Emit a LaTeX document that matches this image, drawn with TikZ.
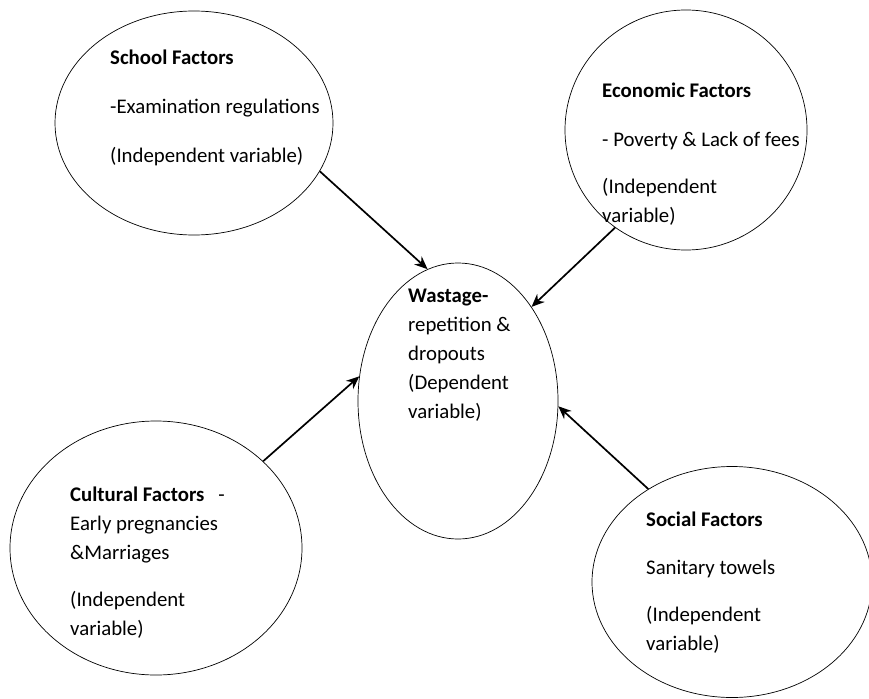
\documentclass[tikz,border=0pt]{standalone}
\usepackage{fontspec}
\setmainfont{Carlito}
\usetikzlibrary{shapes.geometric, arrows.meta}

\begin{document}
\begin{tikzpicture} [x=1pt, y=-1pt,
	factor/.style={ellipse, draw, line width=0.7pt, inner sep=0pt},
	factortext/.style={anchor=base west, align=left, inner sep=0pt, font=\fontsize{20.8}{29}\selectfont},
	link/.style={line width=1.7pt, -{Stealth[length=13pt, width=11pt]}}]
	\useasboundingbox (0,0) rectangle (869,698);
	\node [factor, minimum width=278pt, minimum height=224pt] (school) at (194,123) {};
	\node [factor, minimum width=242pt, minimum height=240pt] (economic) at (686,130) {};
	\node [factor, minimum width=200pt, minimum height=276pt] (wastage) at (458,401) {};
	\node [factor, minimum width=292pt, minimum height=254pt] (cultural) at (156,548) {};
	\node [factor, minimum width=280pt, minimum height=231pt] (social) at (732,582) {};
	\node [factortext] (schooltext) at (110,162) {\textbf{School Factors}\\[20pt] -Examination regulations\\[20pt] (Independent variable)};
	\node [factortext] (economictext) at (602,222) {\textbf{Economic Factors}\\[20pt] - Poverty \& Lack of fees\\[18pt] (Independent\\ variable)};
	\node [factortext] (wastagetext) at (408,418) {\textbf{Wastage-}\\ repetition \&\\ dropouts\\ (Dependent\\ variable)};
	\node [factortext] (culturaltext) at (70,635) {\textbf{Cultural Factors}\hspace{14pt}-\\ Early pregnancies\\ \&Marriages\\[18pt] (Independent\\ variable)};
	\node [factortext] (socialtext) at (646,650) {\textbf{Social Factors}\\[19pt] Sanitary towels\\[18pt] (Independent\\ variable)};
	\draw [link] (school.-21) -- (wastage.103);
	\draw [link] (economic.234) -- (wastage.52);
	\draw [link] (cultural.39) -- (wastage.166);
	\draw [link] (social.132) -- (wastage.-3);
\end{tikzpicture}
\end{document}
